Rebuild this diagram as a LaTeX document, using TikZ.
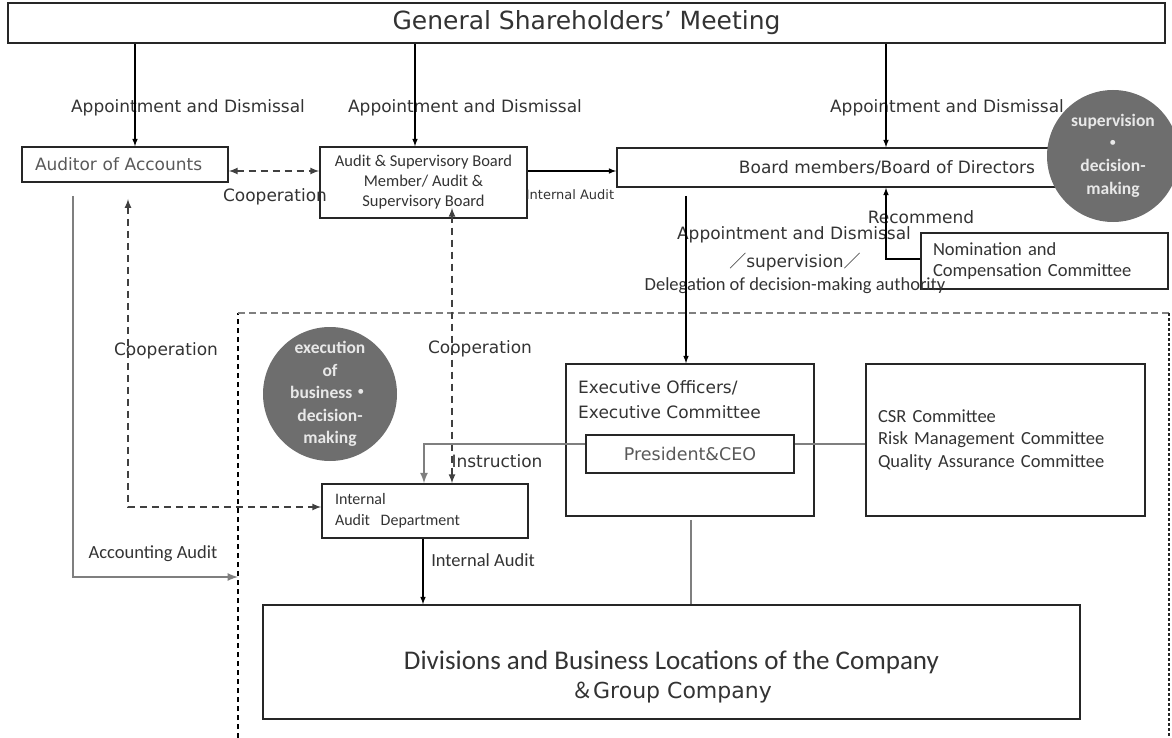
\documentclass[tikz,border=0pt]{standalone}
\usepackage{fontspec}
\setmainfont{DejaVu Sans}
\newfontfamily\calfont{Carlito}
\newfontfamily\cjkfont{Noto Sans CJK JP}
\usetikzlibrary{shapes, arrows}
\definecolor{boxline}{HTML}{262626}
\definecolor{txt}{HTML}{333333}
\definecolor{softtxt}{HTML}{595959}
\definecolor{linkgray}{HTML}{7F7F7F}
\definecolor{dashgray}{HTML}{404040}
\definecolor{badgegray}{HTML}{6E6E6E}
\definecolor{badgetext}{HTML}{E8E8E8}
\tikzstyle{box} = [rectangle, draw=boxline, line width=1.6pt, inner sep=0pt, text=txt]
\tikzstyle{lbl} = [inner sep=0pt, text=txt, font=\fontsize{17}{20}\selectfont]
\tikzstyle{note} = [inner sep=0pt, text=txt, font=\calfont\fontsize{18.5}{22}\selectfont]
\tikzstyle{badge} = [circle, fill=badgegray, inner sep=0pt]
\tikzstyle{badgetxt} = [inner sep=0pt, align=center, text=badgetext, font=\calfont\bfseries\fontsize{17.5}{22.5}\selectfont]
\tikzstyle{arrow} = [line width=1.5pt, ->, >=latex]
\tikzstyle{link} = [line width=2.5pt, draw=linkgray, >=latex]
\tikzstyle{coop} = [line width=2pt, draw=dashgray, dash pattern=on 7pt off 5pt, <->, >=latex]
\tikzstyle{zonetop} = [line width=2.2pt, draw=linkgray, dash pattern=on 7pt off 4pt]
\tikzstyle{zoneleft} = [line width=1.3pt, dash pattern=on 5pt off 4pt]
\tikzstyle{zoneright} = [line width=2.2pt, draw=boxline, dash pattern=on 3pt off 2pt]

\begin{document}
\begin{tikzpicture}[x=1pt, y=-1pt]
				\useasboundingbox (0,0) rectangle (1172,738);
				\node (gsm) [box, minimum width=1157pt, minimum height=40pt, font=\fontsize{25}{28}\selectfont] at (586.5,23) {General Shareholders' Meeting};
				\node (auditor) [box, minimum width=206pt, minimum height=35pt, text width=180pt, inner xsep=13pt, align=left, text=softtxt, font=\fontsize{17}{20}\selectfont] at (125,164.5) {Auditor of Accounts};
				\node (asb) [box, minimum width=207pt, minimum height=71pt, align=center, font=\calfont\fontsize{16.5}{20}\selectfont] at (423.5,182.5) {Audit \& Supervisory Board\\Member/ Audit \&\\Supervisory Board};
				\node (board) [box, minimum width=540pt, minimum height=39pt, font=\fontsize{17}{20}\selectfont] at (887,167.5) {Board members/Board of Directors};
				\node (sup) [badge, minimum size=132pt] at (1113,156) {};
				\node (suptxt) [badgetxt] at (sup) {supervision\\{\cjkfont ・}\\decision-\\making};
				\node (nom) [box, minimum width=247pt, minimum height=56pt, text width=223pt, inner xsep=12pt, align=left, font=\calfont\fontsize{18.5}{21}\selectfont] at (1044.5,261) {Nomination and\\Compensation Committee};

				\coordinate (zoneNW) at (238,313);
				\coordinate (zoneNE) at (1169,313);
				\coordinate (zoneSW) at (238,738);
				\coordinate (zoneSE) at (1169,738);
				\draw [zoneleft] (zoneSW) -- (zoneNW);
				\draw [zonetop] (zoneNW) -- (zoneNE);
				\draw [zoneright] (zoneNE) -- (zoneSE);

				\node (exe) [badge, minimum size=134pt] at (330,394) {};
				\node (exetxt) [badgetxt] at (exe) {execution\\of\\business{\cjkfont ・}\\decision-\\making};
				\node (iad) [box, minimum width=206pt, minimum height=54pt, text width=180pt, inner xsep=13pt, align=left, font=\calfont\fontsize{16}{21}\selectfont] at (425,511) {Internal\\Audit\ \ Department};
				\node (exec) [box, minimum width=248pt, minimum height=152pt] at (690,440) {};
				\node (exectxt) [lbl, anchor=north west, align=left, font=\fontsize{17}{25}\selectfont] at (578,380) {Executive Officers/\\Executive Committee};
				\node (pres) [box, minimum width=208pt, minimum height=38pt, text=softtxt, font=\fontsize{17.5}{20}\selectfont] at (690,454) {President\&CEO};
				\node (csr) [box, minimum width=279pt, minimum height=152pt, text width=255pt, inner xsep=12pt, align=left, font=\calfont\fontsize{18.5}{22.5}\selectfont] at (1005.5,440) {CSR Committee\\Risk Management Committee\\Quality Assurance Committee};
				\node (div) [box, minimum width=817pt, minimum height=114pt] at (671.5,662) {};
				\node (divtxt) [align=center, text=txt, inner sep=0pt, font=\fontsize{22}{29}\selectfont] at (671.5,677) {{\calfont\fontsize{27}{29}\selectfont Divisions and Business Locations of the Company}\\{\cjkfont ＆}Group Company};

				\node (appA) [lbl] at (188,108) {Appointment and Dismissal};
				\node (appB) [lbl] at (465,108) {Appointment and Dismissal};
				\node (appC) [lbl] at (947,108) {Appointment and Dismissal};
				\node (coopL1) [lbl] at (275,197) {Cooperation};
				\node (coopL2) [lbl] at (166,351) {Cooperation};
				\node (coopL3) [lbl] at (480,349) {Cooperation};
				\node (auditL1) [lbl, font=\fontsize{13}{15}\selectfont] at (570,195) {Internal Audit};
				\node (recL) [lbl] at (921,217) {Recommend};
				\node (delA) [lbl] at (794,235) {Appointment and Dismissal};
				\node (delB) [lbl] at (795,262) {{\cjkfont ／}supervision{\cjkfont ／}};
				\node (delC) [note] at (795,286) {Delegation of decision-making authority};
				\node (instL) [lbl] at (497,461) {Instruction};
				\node (auditL2) [note] at (483,560) {Internal Audit};
				\node (accL) [note] at (153,554) {Accounting Audit};

				%connections
				\draw [arrow] (gsm.south -| 135,0) -- (auditor.north -| 135,0);
				\draw [arrow] (gsm.south -| 415,0) -- (asb.north -| 415,0);
				\draw [arrow] (gsm.south -| 886,0) -- (board.north -| 886,0);
				\draw [coop] (auditor.east |- 0,171) -- (asb.west |- 0,171);
				\draw [arrow] (asb.east |- 0,171) -- (board.west |- 0,171);
				\draw [arrow, shorten <=8pt] (board.south -| 686,0) -- (exec.north -| 686,0);
				\draw [arrow] (nom.west |- 0,259) -| (board.south -| 886,0);
				\coordinate (coopA) at (128,199);
				\draw [coop] (coopA) |- ([yshift=4pt]iad.west);
				\draw [coop, shorten <=-11pt] (asb.south -| 452,0) -- (iad.north -| 452,0);
				\draw [link, ->] ([yshift=10pt]pres.west) -| (iad.north -| 424,0);
				\draw [arrow] (iad.south -| 423,0) -- (div.north -| 423,0);
				\draw [link] ([yshift=10pt]pres.east) -- ([yshift=10pt]pres.east -| csr.west);
				\draw [link, shorten <=3pt] (exec.south -| 691,0) -- (div.north -| 691,0);
				\coordinate (accEnd) at (238,577);
				\draw [link, ->, shorten <=13pt] (auditor.south -| 73,0) |- (accEnd);
\end{tikzpicture}
\end{document}
